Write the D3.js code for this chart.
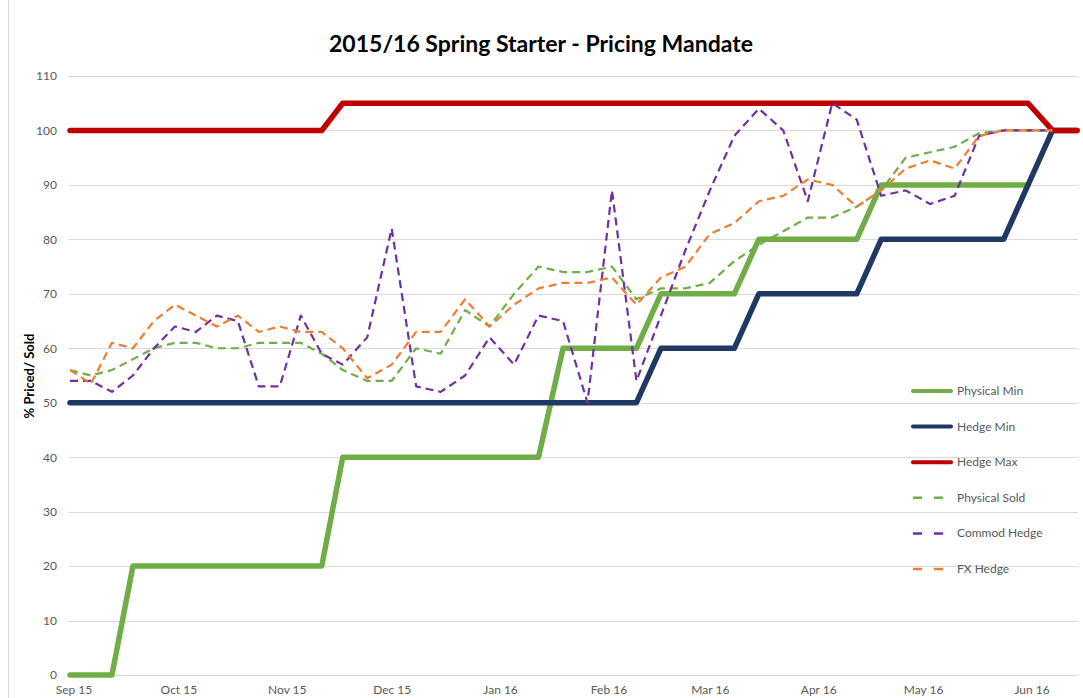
<!DOCTYPE html>
<html>
<head>
<meta charset="utf-8">
<script src="https://cdn.jsdelivr.net/npm/d3@7"></script>
<style>
  body { margin: 0; background: #fff; }
  svg { display: block; font-family: Lato, "Liberation Sans", sans-serif; }
</style>
</head>
<body>
<svg></svg>
<script>
const dates = [
  "2015-08-31","2015-09-06","2015-09-12","2015-09-18","2015-09-24","2015-09-30",
  "2015-10-06","2015-10-12","2015-10-18","2015-10-24","2015-10-30","2015-11-05",
  "2015-11-11","2015-11-17","2015-11-24","2015-12-01","2015-12-08","2015-12-15",
  "2015-12-22","2015-12-29","2016-01-05","2016-01-12","2016-01-19","2016-01-26",
  "2016-02-02","2016-02-09","2016-02-16","2016-02-23","2016-03-01","2016-03-08",
  "2016-03-15","2016-03-22","2016-03-29","2016-04-05","2016-04-12","2016-04-19",
  "2016-04-26","2016-05-03","2016-05-10","2016-05-17","2016-05-24","2016-05-31",
  "2016-06-07","2016-06-14"
];
const physicalMin = [0,0,0,20,20,20,20,20,20,20,20,20,20,40,40,40,40,40,40,40,40,40,
  60,60,60,60,70,70,70,70,80,80,80,80,80,90,90,90,90,90,90,90,null,null];
const hedgeMin = [50,50,50,50,50,50,50,50,50,50,50,50,50,50,50,50,50,50,50,50,50,50,
  50,50,50,50,60,60,60,60,70,70,70,70,70,80,80,80,80,80,80,90,100,100];
const hedgeMax = [100,100,100,100,100,100,100,100,100,100,100,100,100,105,105,105,105,105,
  105,105,105,105,105,105,105,105,105,105,105,105,105,105,105,105,105,105,105,105,105,105,
  105,105,100,100];
const physicalSold = [56,55,56,58,60,61,61,60,60,61,61,61,59,56,54,54,60,59,67,64,70,75,
  74,74,75,69,71,71,72,76,79,81.5,84,84,86,89,95,96,97,99.5,100,100,100,null];
const commodHedge = [54,54,52,55,60,64,63,66,65,53,53,66,59,57,62,82,53,52,55,62,57,66,
  65,50,89,54,66,78,89,99,104,100,87,105,102,88,89,86.5,88,99,100,100,100,null];
const fxHedge = [56,53.5,61,60,65,68,66,64,66,63,64,63,63,60,54.5,57,63,63,69,64,68,71,
  72,72,73,68,73,75,81,83,87,88,91,90,86,89,93,94.5,93,99,100,100,100,null];

const seriesNames = ["Physical Min","Hedge Min","Hedge Max","Physical Sold","Commod Hedge","FX Hedge"];
const yTicks = [0,10,20,30,40,50,60,70,80,90,100,110];

const width = 1083, height = 698;
const svg = d3.select("svg").attr("width", width).attr("height", height);

const parse = d3.timeParse("%Y-%m-%d");
const xDates = dates.map(parse);

const x = d3.scaleTime().domain(d3.extent(xDates)).range([70, 1077]);
const y = d3.scaleLinear().domain([0, 110]).range([675, 76]);

// chart frame (left edge visible)
svg.append("line").attr("x1", 8.5).attr("x2", 8.5).attr("y1", 0).attr("y2", height)
  .attr("stroke", "#d9d9d9");

// gridlines
svg.append("g").selectAll("line").data(yTicks).enter().append("line")
  .attr("x1", 68).attr("x2", 1078)
  .attr("y1", d => Math.round(y(d)) + 0.5).attr("y2", d => Math.round(y(d)) + 0.5)
  .attr("stroke", "#d9d9d9").attr("stroke-width", 1);

// y axis
const yAxis = svg.append("g").attr("transform", "translate(68,0)")
  .call(d3.axisLeft(y).tickValues(yTicks).tickSize(0).tickPadding(11));
yAxis.select(".domain").remove();
yAxis.selectAll("text").attr("fill", "#595959").style("font-size", "12px")
  .style("font-family", "Lato, 'Liberation Sans', sans-serif");

// x axis
const months = d3.timeMonth.range(new Date(2015, 8, 1), new Date(2016, 6, 1));
const xAxis = svg.append("g").attr("transform", "translate(0,675)")
  .call(d3.axisBottom(x).tickValues(months).tickFormat(d3.timeFormat("%b %y")).tickSize(0).tickPadding(10));
xAxis.select(".domain").remove();
xAxis.selectAll("text").attr("fill", "#595959").style("font-size", "12px")
  .style("font-family", "Lato, 'Liberation Sans', sans-serif");

// title
svg.append("text").attr("x", 541).attr("y", 52).attr("text-anchor", "middle")
  .style("font-size", "23px").style("font-weight", "bold").attr("fill", "#000")
  .text("2015/16 Spring Starter - Pricing Mandate");

// y title
svg.append("text").attr("transform", "translate(34,376) rotate(-90)")
  .attr("text-anchor", "middle").style("font-size", "13px").style("font-weight", "bold")
  .attr("fill", "#000").text("% Priced/ Sold");

const series = [
  { name: seriesNames[0], values: physicalMin, color: "#70ad47", w: 5.5, dash: null },
  { name: seriesNames[1], values: hedgeMin, color: "#203864", w: 5.5, dash: null },
  { name: seriesNames[2], values: hedgeMax, color: "#c00000", w: 5.5, dash: null },
  { name: seriesNames[3], values: physicalSold, color: "#70ad47", w: 2.2, dash: "8,5" },
  { name: seriesNames[4], values: commodHedge, color: "#7030a0", w: 2.2, dash: "8,5" },
  { name: seriesNames[5], values: fxHedge, color: "#ed7d31", w: 2.2, dash: "8,5" }
];

const line = d3.line()
  .defined(d => d.v !== null)
  .x(d => x(d.date))
  .y(d => y(d.v));

svg.append("g").selectAll("path").data(series).enter().append("path")
  .attr("d", s => line(s.values.map((v, i) => ({ date: xDates[i], v: v }))))
  .attr("fill", "none")
  .attr("stroke", s => s.color)
  .attr("stroke-width", s => s.w)
  .attr("stroke-linejoin", "round")
  .attr("stroke-linecap", s => s.dash ? "butt" : "round")
  .attr("stroke-dasharray", s => s.dash);

// legend
const legend = svg.append("g").selectAll("g").data(series).enter().append("g")
  .attr("transform", (s, i) => `translate(911,${391 + i * 35.6})`);
legend.append("line").attr("x1", 2).attr("x2", 40).attr("y1", 0).attr("y2", 0)
  .attr("stroke", s => s.color)
  .attr("stroke-width", s => s.dash ? 2.5 : 4)
  .attr("stroke-linecap", s => s.dash ? "butt" : "round")
  .attr("stroke-dasharray", s => s.dash ? "9,12" : null);
legend.append("text").attr("x", 46).attr("y", 4)
  .style("font-size", "12px").attr("fill", "#595959").text(s => s.name);
</script>
</body>
</html>
